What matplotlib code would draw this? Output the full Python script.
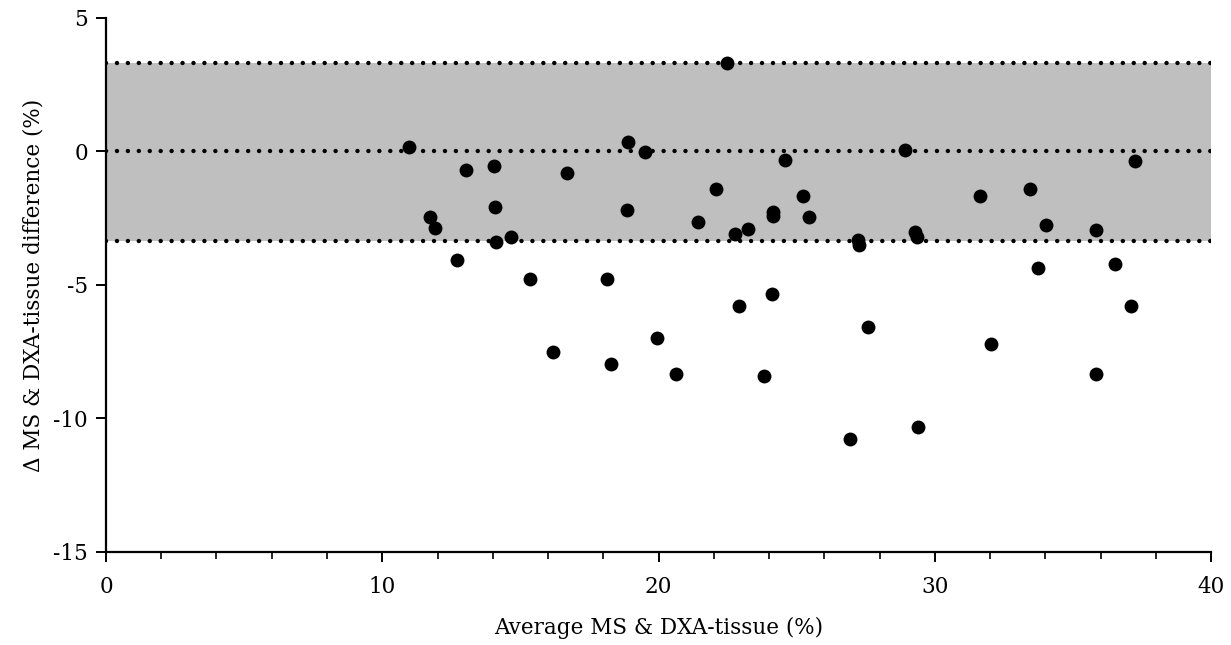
import matplotlib
matplotlib.use('Agg')
import matplotlib.pyplot as plt
from matplotlib.ticker import MultipleLocator

# average of MS and DXA-tissue (%)
avg = [10.97, 11.73, 11.91, 12.70, 13.03, 14.04, 14.08, 14.13, 14.67, 15.35,
       16.17, 16.68, 18.15, 18.29, 18.86, 18.89, 19.51, 19.96, 20.63, 21.43,
       22.08, 22.48, 22.77, 22.91, 23.25, 23.82, 24.09, 24.14, 24.14, 24.57,
       25.23, 25.44, 26.93, 27.23, 27.27, 27.59, 28.92, 29.28, 29.34, 29.40,
       31.63, 32.05, 33.44, 33.73, 34.02, 35.83, 35.83, 36.51, 37.10, 37.24]
# difference MS - DXA-tissue (%)
diff = [0.17, -2.44, -2.86, -4.05, -0.69, -0.54, -2.07, -3.40, -3.19, -4.76,
        -7.50, -0.80, -4.76, -7.95, -2.19, 0.36, -0.01, -7.00, -8.35, -2.64,
        -1.40, 3.33, -3.10, -5.80, -2.90, -8.40, -5.35, -2.26, -2.41, -0.31,
        -1.66, -2.45, -10.76, -3.31, -3.50, -6.56, 0.06, -3.00, -3.21, -10.30,
        -1.66, -7.20, -1.40, -4.35, -2.75, -2.94, -8.35, -4.20, -5.80, -0.35]

mean_line = 0.0
upper_loa = 3.33
lower_loa = -3.35

plt.rcParams['font.family'] = ['DejaVu Serif']
plt.rcParams['axes.unicode_minus'] = False

fig = plt.figure(figsize=(12.31, 6.45), dpi=100)
ax = fig.add_axes([0.0861, 0.1442, 0.8977, 0.8279])

ax.fill_between([0, 40], lower_loa, upper_loa, color='#bfbfbf', lw=0, zorder=1)
for yv in [upper_loa, mean_line, lower_loa]:
    ax.plot([0, 40], [yv, yv], color='black', lw=3.2, linestyle=(0, (0.01, 2.45)),
            dash_capstyle='round', zorder=2)

ax.scatter(avg, diff, s=100, color='black', zorder=3, linewidths=0)

ax.set_xlim(0, 40)
ax.set_ylim(-15, 5)
ax.xaxis.set_major_locator(MultipleLocator(10))
ax.xaxis.set_minor_locator(MultipleLocator(2))
ax.yaxis.set_major_locator(MultipleLocator(5))

for s in ['top', 'right']:
    ax.spines[s].set_visible(False)
for s in ['left', 'bottom']:
    ax.spines[s].set_linewidth(1.6)

ax.tick_params(axis='both', which='major', direction='out', length=7, width=1.4,
               labelsize=15.5)
ax.tick_params(axis='x', which='major', pad=10)
ax.tick_params(axis='y', which='major', pad=6)
ax.tick_params(axis='x', which='minor', direction='out', length=5, width=1.2)

ax.set_xlabel('Average MS & DXA-tissue (%)', fontsize=15.5, labelpad=14)
ax.set_ylabel('\u0394 MS & DXA-tissue difference (%)', fontsize=15.5, labelpad=6)

fig.savefig('out.png', dpi=100)
